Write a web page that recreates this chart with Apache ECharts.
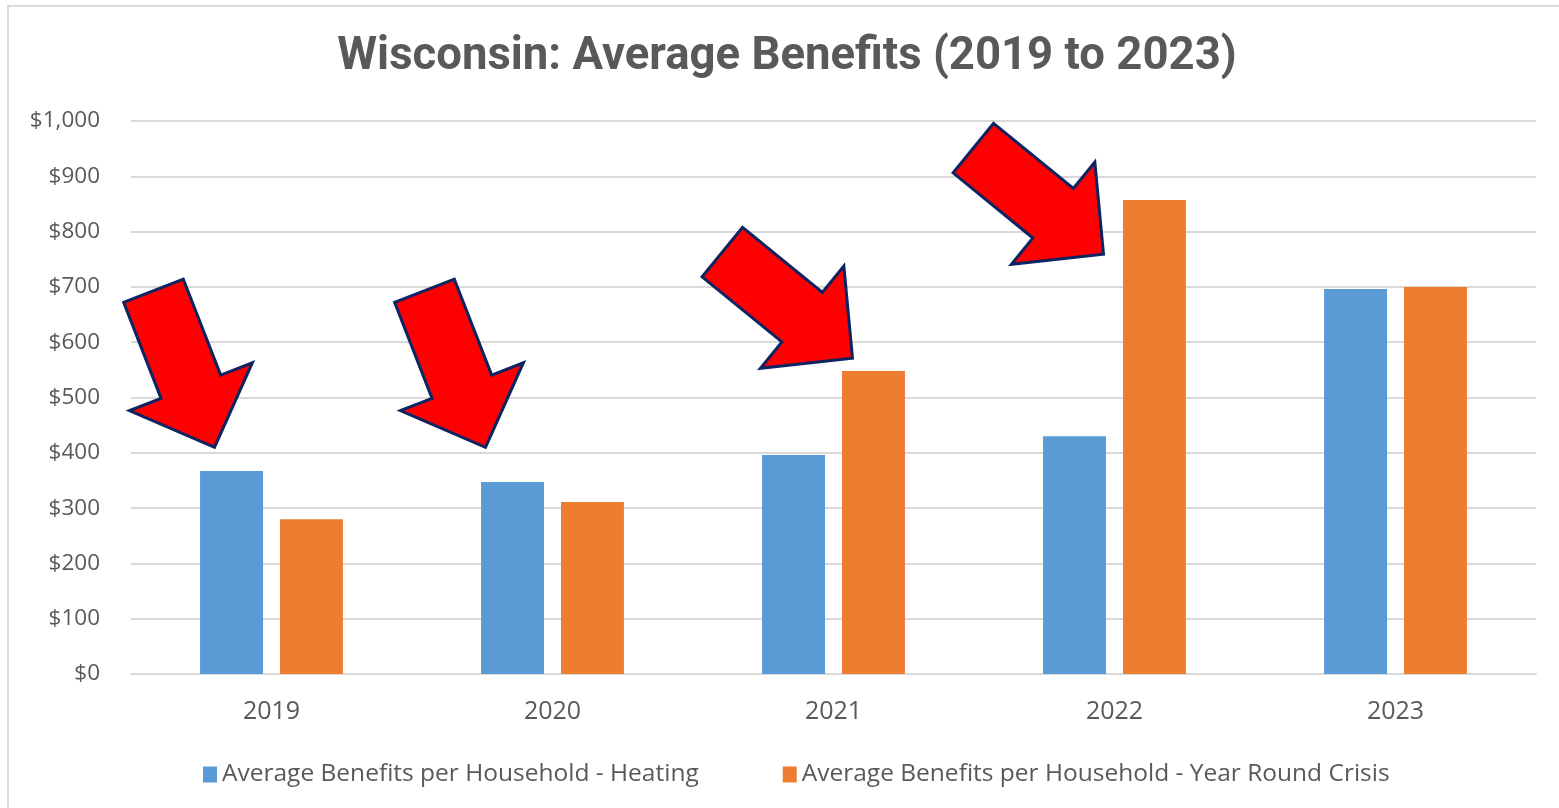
<!DOCTYPE html>
<html>
<head>
<meta charset="utf-8">
<script src="https://cdn.jsdelivr.net/npm/echarts@6/dist/echarts.min.js"></script>
<style>
  html, body { margin: 0; padding: 0; background: #fff; }
  #chart { width: 1559px; height: 808px; }
</style>
</head>
<body>
<div id="chart"></div>
<script>
// data
const years = ['2019', '2020', '2021', '2022', '2023'];
const heating = [367, 347, 396, 430, 696];
const crisis = [280, 311, 548, 857, 700];
const yTicks = [0, 100, 200, 300, 400, 500, 600, 700, 800, 900, 1000];
const titleText = 'Wisconsin: Average Benefits (2019 to 2023)';

// red arrows: [category index, value at tip, px shift from category centre, angle deg]
const arrows = [
  [0, 410, -57, 68.7],
  [1, 410, -67, 68.7],
  [2, 571, 19, 39.2],
  [3, 759, -11, 39.2]
];

const chart = echarts.init(document.getElementById('chart'));

const option = {
  backgroundColor: '#fff',
  animation: false,
  legend: {
    left: 198,
    top: 757,
    itemWidth: 14,
    itemHeight: 16,
    itemGap: 84,
    icon: 'rect',
    textStyle: { fontFamily: 'Open Sans', fontSize: 24.5, color: '#595959' },
    data: ['Average Benefits per Household - Heating', 'Average Benefits per Household - Year Round Crisis']
  },
  grid: { left: 131, right: 23, top: 121, bottom: 134 },
  xAxis: {
    type: 'category',
    data: years,
    axisTick: { show: false },
    axisLine: { lineStyle: { color: '#D9D9D9', width: 2 } },
    axisLabel: { margin: 25, fontFamily: 'Open Sans', fontSize: 25, color: '#595959' }
  },
  yAxis: {
    type: 'value',
    min: 0,
    max: 1000,
    interval: 100,
    axisLine: { show: false },
    axisTick: { show: false },
    splitLine: { lineStyle: { color: '#D9D9D9', width: 2 } },
    axisLabel: {
      margin: 31,
      fontFamily: 'Open Sans',
      fontSize: 22.5,
      color: '#595959',
      formatter: v => yTicks.includes(v) ? '$' + v.toLocaleString('en-US') : ''
    }
  },
  series: [
    {
      name: 'Average Benefits per Household - Heating',
      type: 'bar',
      data: heating,
      barWidth: '22.4%',
      barGap: '27%',
      itemStyle: { color: '#5B9BD5' }
    },
    {
      name: 'Average Benefits per Household - Year Round Crisis',
      type: 'bar',
      data: crisis,
      barWidth: '22.4%',
      itemStyle: { color: '#ED7D31' }
    }
  ]
};

chart.setOption(option);

// block arrow outline, tip at origin pointing along +x
const arrowShape = [[0, 0], [-65, -66], [-65, -32], [-168, -32], [-168, 32], [-65, 32], [-65, 66]];

function arrowPoints(tx, ty, deg) {
  const a = deg * Math.PI / 180;
  const c = Math.cos(a), s = Math.sin(a);
  return arrowShape.map(([x, y]) => [tx + x * c - y * s, ty + x * s + y * c]);
}

const graphics = [
  {
    type: 'rect',
    shape: { x: 8, y: 6, width: 1600, height: 900 },
    style: { fill: 'none', stroke: '#D9D9D9', lineWidth: 2 },
    silent: true
  },
  {
    type: 'text',
    x: 787,
    y: 58,
    style: {
      text: titleText,
      align: 'center',
      verticalAlign: 'middle',
      fontFamily: 'Roboto',
      fontWeight: 'bold',
      fontSize: 45.5,
      fill: '#595959'
    }
  }
];

arrows.forEach(([ci, val, dx, deg]) => {
  const p = chart.convertToPixel({ gridIndex: 0 }, [ci, val]);
  graphics.push({
    type: 'polygon',
    shape: { points: arrowPoints(p[0] + dx, p[1], deg) },
    style: { fill: '#FF0000', stroke: '#0D2463', lineWidth: 3, lineJoin: 'miter' },
    z: 10
  });
});

chart.setOption({ graphic: graphics });

window.addEventListener('resize', () => chart.resize());
</script>
</body>
</html>
